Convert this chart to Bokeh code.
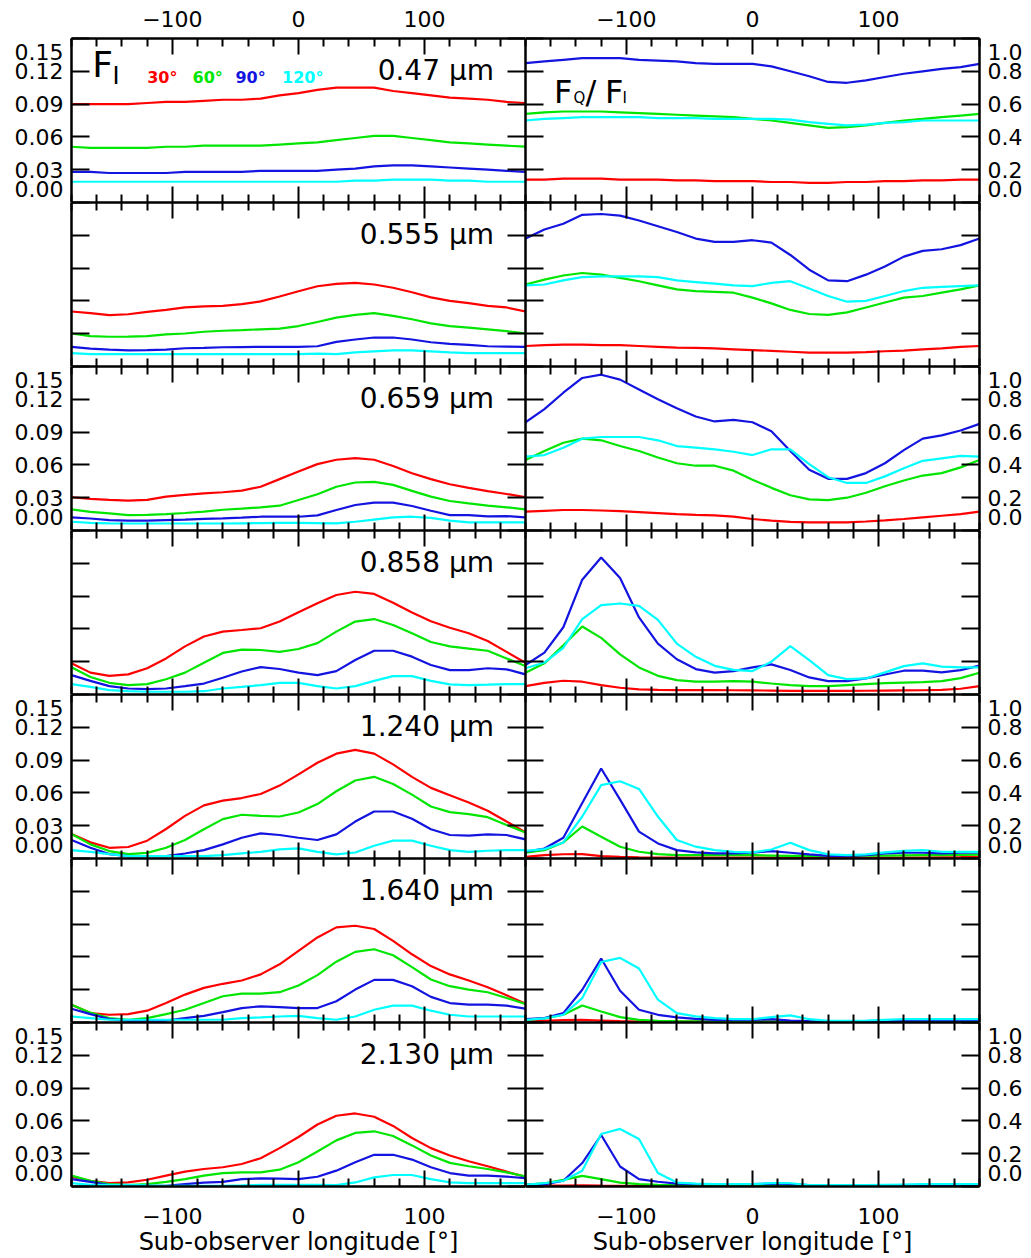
from bokeh.plotting import figure
from bokeh.layouts import gridplot
from bokeh.models import Range1d, LinearAxis, FixedTicker, CustomJSTickFormatter, Label
from bokeh.embed import file_html
from bokeh.resources import INLINE

# ---------------- data ----------------
LON = [-180, -165, -150, -135, -120, -105, -90, -75, -60, -45, -30, -15, 0,
       15, 30, 45, 60, 75, 90, 105, 120, 135, 150, 165, 180]

ANGLES = [30, 60, 90, 120]
WAVELENGTHS = ["0.47", "0.555", "0.659", "0.858", "1.240", "1.640", "2.130"]

# F_I, 0.47 um
FI_0470_30 = [0.090, 0.090, 0.090, 0.090, 0.091, 0.092, 0.092, 0.093, 0.094, 0.094, 0.095, 0.098, 0.100, 0.103, 0.105, 0.105, 0.105, 0.102, 0.100, 0.098, 0.096, 0.095, 0.094, 0.092, 0.091]
FI_0470_60 = [0.051, 0.050, 0.050, 0.050, 0.050, 0.051, 0.051, 0.052, 0.052, 0.052, 0.052, 0.053, 0.054, 0.055, 0.057, 0.059, 0.061, 0.061, 0.059, 0.057, 0.055, 0.054, 0.053, 0.052, 0.051]
FI_0470_90 = [0.028, 0.028, 0.027, 0.027, 0.027, 0.027, 0.028, 0.028, 0.028, 0.028, 0.029, 0.029, 0.029, 0.029, 0.030, 0.031, 0.033, 0.034, 0.034, 0.033, 0.032, 0.031, 0.030, 0.029, 0.028]
FI_0470_120 = [0.019, 0.019, 0.019, 0.019, 0.019, 0.019, 0.019, 0.019, 0.019, 0.019, 0.019, 0.019, 0.019, 0.019, 0.019, 0.020, 0.020, 0.021, 0.021, 0.021, 0.020, 0.020, 0.019, 0.019, 0.019]
# F_Q/F_I, 0.47 um
FQ_0470_30 = [0.140, 0.140, 0.145, 0.145, 0.145, 0.140, 0.140, 0.140, 0.135, 0.135, 0.130, 0.130, 0.130, 0.125, 0.125, 0.120, 0.120, 0.125, 0.125, 0.130, 0.130, 0.135, 0.135, 0.140, 0.140]
FQ_0470_60 = [0.540, 0.550, 0.555, 0.555, 0.555, 0.550, 0.545, 0.540, 0.535, 0.530, 0.525, 0.520, 0.510, 0.500, 0.485, 0.470, 0.455, 0.460, 0.470, 0.485, 0.500, 0.510, 0.520, 0.530, 0.540]
FQ_0470_90 = [0.850, 0.860, 0.870, 0.880, 0.880, 0.880, 0.870, 0.865, 0.860, 0.850, 0.845, 0.845, 0.845, 0.830, 0.800, 0.770, 0.735, 0.730, 0.745, 0.765, 0.785, 0.800, 0.815, 0.825, 0.845]
FQ_0470_120 = [0.500, 0.510, 0.515, 0.520, 0.520, 0.520, 0.520, 0.515, 0.515, 0.515, 0.510, 0.510, 0.510, 0.510, 0.505, 0.490, 0.480, 0.470, 0.475, 0.485, 0.490, 0.500, 0.500, 0.500, 0.500]

# 0.555 um
FI_0555_30 = [0.0503, 0.0488, 0.0470, 0.0478, 0.0500, 0.0518, 0.0540, 0.0550, 0.0555, 0.0570, 0.0596, 0.0640, 0.0688, 0.0734, 0.0756, 0.0765, 0.0750, 0.0720, 0.0679, 0.0632, 0.0600, 0.0580, 0.0555, 0.0540, 0.0503]
FI_0555_60 = [0.0302, 0.0278, 0.0272, 0.0273, 0.0278, 0.0293, 0.0302, 0.0318, 0.0327, 0.0333, 0.0340, 0.0346, 0.0370, 0.0407, 0.0447, 0.0472, 0.0488, 0.0463, 0.0432, 0.0395, 0.0370, 0.0355, 0.0340, 0.0324, 0.0302]
FI_0555_90 = [0.0179, 0.0164, 0.0155, 0.0148, 0.0150, 0.0155, 0.0167, 0.0170, 0.0176, 0.0178, 0.0179, 0.0179, 0.0179, 0.0185, 0.0225, 0.0247, 0.0265, 0.0265, 0.0247, 0.0222, 0.0207, 0.0198, 0.0185, 0.0182, 0.0179]
FI_0555_120 = [0.0123, 0.0114, 0.0114, 0.0114, 0.0114, 0.0114, 0.0114, 0.0114, 0.0114, 0.0114, 0.0114, 0.0114, 0.0114, 0.0117, 0.0114, 0.0130, 0.0139, 0.0148, 0.0148, 0.0139, 0.0130, 0.0123, 0.0123, 0.0123, 0.0123]
FQ_0555_30 = [0.125, 0.130, 0.133, 0.133, 0.130, 0.130, 0.125, 0.120, 0.115, 0.113, 0.110, 0.105, 0.100, 0.095, 0.090, 0.085, 0.085, 0.085, 0.088, 0.093, 0.097, 0.105, 0.110, 0.120, 0.125]
FQ_0555_60 = [0.500, 0.530, 0.555, 0.570, 0.560, 0.540, 0.520, 0.495, 0.470, 0.460, 0.455, 0.450, 0.420, 0.385, 0.345, 0.320, 0.315, 0.330, 0.360, 0.390, 0.420, 0.430, 0.450, 0.470, 0.495]
FQ_0555_90 = [0.780, 0.835, 0.870, 0.925, 0.930, 0.920, 0.890, 0.855, 0.820, 0.780, 0.760, 0.760, 0.770, 0.755, 0.680, 0.590, 0.525, 0.520, 0.560, 0.610, 0.670, 0.705, 0.715, 0.740, 0.780]
FQ_0555_120 = [0.495, 0.500, 0.525, 0.545, 0.550, 0.550, 0.550, 0.545, 0.525, 0.515, 0.505, 0.495, 0.490, 0.510, 0.520, 0.475, 0.430, 0.395, 0.400, 0.430, 0.460, 0.480, 0.485, 0.490, 0.495]

# 0.659 um
FI_0659_30 = [0.0304, 0.0290, 0.0280, 0.0273, 0.0280, 0.0310, 0.0325, 0.0340, 0.0350, 0.0365, 0.0400, 0.0470, 0.0540, 0.0607, 0.0647, 0.0662, 0.0647, 0.0590, 0.0524, 0.0470, 0.0423, 0.0390, 0.0360, 0.0334, 0.0304]
FI_0659_60 = [0.0193, 0.0170, 0.0156, 0.0141, 0.0143, 0.0150, 0.0160, 0.0172, 0.0190, 0.0200, 0.0212, 0.0227, 0.0279, 0.0331, 0.0400, 0.0439, 0.0445, 0.0417, 0.0362, 0.0310, 0.0270, 0.0248, 0.0227, 0.0212, 0.0193]
FI_0659_90 = [0.0120, 0.0110, 0.0095, 0.0090, 0.0090, 0.0095, 0.0100, 0.0107, 0.0110, 0.0117, 0.0126, 0.0126, 0.0126, 0.0138, 0.0187, 0.0233, 0.0255, 0.0255, 0.0224, 0.0181, 0.0141, 0.0141, 0.0130, 0.0132, 0.0120]
FI_0659_120 = [0.0080, 0.0070, 0.0065, 0.0064, 0.0064, 0.0064, 0.0064, 0.0064, 0.0064, 0.0066, 0.0068, 0.0070, 0.0070, 0.0068, 0.0066, 0.0080, 0.0100, 0.0120, 0.0126, 0.0115, 0.0090, 0.0075, 0.0075, 0.0075, 0.0075]
FQ_0659_30 = [0.115, 0.120, 0.125, 0.125, 0.122, 0.118, 0.112, 0.106, 0.100, 0.095, 0.092, 0.085, 0.070, 0.060, 0.053, 0.050, 0.049, 0.050, 0.055, 0.062, 0.070, 0.080, 0.090, 0.100, 0.115]
FQ_0659_60 = [0.430, 0.485, 0.535, 0.560, 0.550, 0.515, 0.485, 0.445, 0.410, 0.395, 0.395, 0.365, 0.310, 0.260, 0.215, 0.190, 0.185, 0.200, 0.230, 0.270, 0.305, 0.335, 0.350, 0.385, 0.430]
FQ_0659_90 = [0.660, 0.740, 0.840, 0.930, 0.950, 0.920, 0.860, 0.800, 0.745, 0.695, 0.665, 0.675, 0.660, 0.605, 0.485, 0.370, 0.315, 0.315, 0.350, 0.410, 0.490, 0.560, 0.580, 0.610, 0.650]
FQ_0659_120 = [0.450, 0.460, 0.505, 0.560, 0.570, 0.570, 0.570, 0.550, 0.515, 0.505, 0.495, 0.480, 0.460, 0.495, 0.495, 0.405, 0.325, 0.290, 0.290, 0.330, 0.380, 0.425, 0.440, 0.455, 0.450]

# 0.858 um
FI_0858_30 = [0.0285, 0.0200, 0.0170, 0.0184, 0.0240, 0.0330, 0.0440, 0.0530, 0.0575, 0.0590, 0.0606, 0.0667, 0.0753, 0.0835, 0.0910, 0.0940, 0.0920, 0.0840, 0.0750, 0.0670, 0.0610, 0.0560, 0.0490, 0.0390, 0.0290]
FI_0858_60 = [0.0250, 0.0160, 0.0107, 0.0086, 0.0095, 0.0140, 0.0200, 0.0290, 0.0380, 0.0410, 0.0407, 0.0390, 0.0416, 0.0470, 0.0575, 0.0667, 0.0690, 0.0636, 0.0560, 0.0480, 0.0440, 0.0420, 0.0400, 0.0330, 0.0260]
FI_0858_90 = [0.0177, 0.0125, 0.0077, 0.0055, 0.0050, 0.0055, 0.0077, 0.0100, 0.0153, 0.0210, 0.0250, 0.0233, 0.0200, 0.0177, 0.0214, 0.0315, 0.0400, 0.0400, 0.0346, 0.0270, 0.0223, 0.0223, 0.0240, 0.0230, 0.0184]
FI_0858_120 = [0.0095, 0.0070, 0.0040, 0.0030, 0.0025, 0.0025, 0.0025, 0.0030, 0.0055, 0.0070, 0.0086, 0.0107, 0.0107, 0.0077, 0.0055, 0.0077, 0.0125, 0.0168, 0.0168, 0.0125, 0.0092, 0.0086, 0.0090, 0.0095, 0.0095]
FQ_0858_30 = [0.051, 0.071, 0.084, 0.078, 0.057, 0.041, 0.031, 0.028, 0.027, 0.027, 0.027, 0.026, 0.025, 0.024, 0.022, 0.022, 0.022, 0.022, 0.023, 0.024, 0.025, 0.026, 0.028, 0.035, 0.051]
FQ_0858_60 = [0.133, 0.190, 0.300, 0.415, 0.345, 0.245, 0.165, 0.114, 0.088, 0.078, 0.078, 0.082, 0.078, 0.067, 0.057, 0.051, 0.051, 0.057, 0.063, 0.069, 0.073, 0.076, 0.082, 0.100, 0.133]
FQ_0858_90 = [0.180, 0.255, 0.410, 0.700, 0.835, 0.710, 0.470, 0.310, 0.215, 0.155, 0.133, 0.143, 0.165, 0.184, 0.149, 0.104, 0.082, 0.082, 0.098, 0.122, 0.145, 0.145, 0.135, 0.149, 0.176]
FQ_0858_120 = [0.160, 0.195, 0.285, 0.460, 0.545, 0.555, 0.540, 0.455, 0.310, 0.230, 0.175, 0.150, 0.143, 0.200, 0.295, 0.210, 0.118, 0.094, 0.098, 0.135, 0.173, 0.190, 0.170, 0.165, 0.165]

# 1.240 um
FI_1240_30 = [0.0224, 0.0148, 0.0098, 0.0105, 0.0163, 0.0270, 0.0390, 0.0486, 0.0529, 0.0553, 0.0590, 0.0667, 0.0769, 0.0876, 0.0959, 0.0993, 0.0959, 0.0861, 0.0747, 0.0646, 0.0578, 0.0513, 0.0437, 0.0338, 0.0240]
FI_1240_60 = [0.0224, 0.0129, 0.0068, 0.0040, 0.0052, 0.0098, 0.0169, 0.0267, 0.0360, 0.0400, 0.0390, 0.0384, 0.0421, 0.0498, 0.0615, 0.0713, 0.0747, 0.0682, 0.0584, 0.0476, 0.0424, 0.0406, 0.0378, 0.0307, 0.0237]
FI_1240_90 = [0.0169, 0.0098, 0.0040, 0.0022, 0.0022, 0.0022, 0.0046, 0.0077, 0.0129, 0.0190, 0.0230, 0.0215, 0.0190, 0.0169, 0.0221, 0.0338, 0.0430, 0.0430, 0.0363, 0.0267, 0.0215, 0.0209, 0.0221, 0.0215, 0.0175]
FI_1240_120 = [0.0077, 0.0061, 0.0040, 0.0022, 0.0022, 0.0022, 0.0022, 0.0022, 0.0031, 0.0046, 0.0061, 0.0083, 0.0092, 0.0061, 0.0037, 0.0055, 0.0117, 0.0163, 0.0163, 0.0117, 0.0077, 0.0061, 0.0071, 0.0077, 0.0077]
FQ_1240_30 = [0.010, 0.020, 0.026, 0.027, 0.014, 0.010, 0.007, 0.006, 0.005, 0.005, 0.005, 0.005, 0.005, 0.005, 0.005, 0.005, 0.005, 0.005, 0.005, 0.005, 0.005, 0.006, 0.007, 0.008, 0.010]
FQ_1240_60 = [0.035, 0.051, 0.098, 0.195, 0.133, 0.072, 0.041, 0.027, 0.021, 0.020, 0.020, 0.020, 0.020, 0.018, 0.016, 0.016, 0.016, 0.016, 0.017, 0.018, 0.019, 0.020, 0.021, 0.022, 0.024]
FQ_1240_90 = [0.041, 0.061, 0.127, 0.338, 0.549, 0.359, 0.164, 0.092, 0.051, 0.037, 0.031, 0.031, 0.035, 0.045, 0.035, 0.025, 0.016, 0.016, 0.020, 0.031, 0.035, 0.035, 0.031, 0.035, 0.037]
FQ_1240_120 = [0.047, 0.057, 0.098, 0.256, 0.447, 0.471, 0.424, 0.256, 0.113, 0.072, 0.051, 0.041, 0.037, 0.055, 0.096, 0.051, 0.025, 0.020, 0.025, 0.037, 0.047, 0.051, 0.041, 0.041, 0.041]

# 1.640 um
FI_1640_30 = [0.0163, 0.0086, 0.0071, 0.0077, 0.0108, 0.0178, 0.0255, 0.0317, 0.0354, 0.0384, 0.0440, 0.0532, 0.0655, 0.0778, 0.0870, 0.0885, 0.0855, 0.0747, 0.0624, 0.0516, 0.0440, 0.0384, 0.0323, 0.0249, 0.0172]
FI_1640_60 = [0.0163, 0.0090, 0.0040, 0.0025, 0.0040, 0.0077, 0.0117, 0.0178, 0.0240, 0.0264, 0.0264, 0.0277, 0.0338, 0.0433, 0.0556, 0.0646, 0.0670, 0.0615, 0.0507, 0.0393, 0.0332, 0.0301, 0.0277, 0.0224, 0.0169]
FI_1640_90 = [0.0126, 0.0077, 0.0031, 0.0018, 0.0018, 0.0018, 0.0040, 0.0061, 0.0095, 0.0132, 0.0148, 0.0141, 0.0132, 0.0132, 0.0194, 0.0301, 0.0390, 0.0390, 0.0332, 0.0234, 0.0178, 0.0163, 0.0163, 0.0154, 0.0126]
FI_1640_120 = [0.0055, 0.0040, 0.0025, 0.0025, 0.0025, 0.0025, 0.0025, 0.0025, 0.0025, 0.0040, 0.0046, 0.0055, 0.0061, 0.0040, 0.0025, 0.0055, 0.0117, 0.0154, 0.0154, 0.0108, 0.0071, 0.0055, 0.0055, 0.0055, 0.0055]
FQ_1640_30 = [0.008, 0.010, 0.014, 0.016, 0.012, 0.008, 0.006, 0.005, 0.005, 0.005, 0.005, 0.005, 0.005, 0.005, 0.005, 0.005, 0.005, 0.005, 0.005, 0.005, 0.005, 0.005, 0.005, 0.005, 0.006]
FQ_1640_60 = [0.016, 0.025, 0.047, 0.104, 0.067, 0.033, 0.016, 0.010, 0.008, 0.007, 0.006, 0.006, 0.006, 0.006, 0.006, 0.006, 0.006, 0.006, 0.006, 0.006, 0.006, 0.006, 0.006, 0.007, 0.008]
FQ_1640_90 = [0.020, 0.027, 0.057, 0.200, 0.390, 0.194, 0.078, 0.047, 0.031, 0.022, 0.016, 0.016, 0.016, 0.020, 0.012, 0.008, 0.006, 0.006, 0.006, 0.008, 0.010, 0.012, 0.012, 0.012, 0.014]
FQ_1640_120 = [0.016, 0.025, 0.047, 0.149, 0.369, 0.394, 0.329, 0.139, 0.057, 0.037, 0.027, 0.020, 0.020, 0.033, 0.043, 0.020, 0.010, 0.010, 0.012, 0.016, 0.020, 0.020, 0.020, 0.020, 0.020]

# 2.130 um
FI_2130_30 = [0.0089, 0.0052, 0.0031, 0.0037, 0.0062, 0.0099, 0.0136, 0.0160, 0.0176, 0.0206, 0.0259, 0.0351, 0.0453, 0.0567, 0.0647, 0.0668, 0.0638, 0.0554, 0.0444, 0.0351, 0.0283, 0.0231, 0.0185, 0.0136, 0.0089]
FI_2130_60 = [0.0099, 0.0052, 0.0022, 0.0012, 0.0022, 0.0043, 0.0068, 0.0099, 0.0123, 0.0129, 0.0129, 0.0154, 0.0222, 0.0320, 0.0422, 0.0490, 0.0505, 0.0462, 0.0376, 0.0283, 0.0216, 0.0185, 0.0160, 0.0129, 0.0092]
FI_2130_90 = [0.0068, 0.0043, 0.0012, 0.0006, 0.0006, 0.0006, 0.0022, 0.0035, 0.0043, 0.0068, 0.0074, 0.0072, 0.0068, 0.0089, 0.0145, 0.0222, 0.0290, 0.0290, 0.0246, 0.0176, 0.0123, 0.0099, 0.0099, 0.0090, 0.0077]
FI_2130_120 = [0.0031, 0.0015, 0.0015, 0.0015, 0.0010, 0.0006, 0.0006, 0.0006, 0.0006, 0.0010, 0.0015, 0.0015, 0.0015, 0.0015, 0.0012, 0.0037, 0.0083, 0.0105, 0.0105, 0.0068, 0.0037, 0.0031, 0.0031, 0.0031, 0.0031]
FQ_2130_30 = [0.004, 0.005, 0.006, 0.007, 0.005, 0.004, 0.003, 0.003, 0.003, 0.003, 0.003, 0.003, 0.003, 0.003, 0.003, 0.003, 0.003, 0.003, 0.003, 0.003, 0.003, 0.003, 0.003, 0.003, 0.004]
FQ_2130_60 = [0.010, 0.020, 0.040, 0.065, 0.045, 0.024, 0.014, 0.010, 0.008, 0.008, 0.008, 0.008, 0.008, 0.008, 0.008, 0.008, 0.008, 0.008, 0.008, 0.008, 0.008, 0.008, 0.008, 0.008, 0.008]
FQ_2130_90 = [0.010, 0.012, 0.035, 0.143, 0.314, 0.122, 0.045, 0.029, 0.018, 0.014, 0.014, 0.014, 0.014, 0.018, 0.014, 0.008, 0.008, 0.008, 0.008, 0.008, 0.009, 0.010, 0.010, 0.010, 0.010]
FQ_2130_120 = [0.010, 0.020, 0.035, 0.096, 0.320, 0.351, 0.290, 0.082, 0.024, 0.018, 0.014, 0.014, 0.014, 0.020, 0.020, 0.008, 0.008, 0.008, 0.008, 0.010, 0.012, 0.014, 0.014, 0.014, 0.014]

FI_ROWS = [
    [FI_0470_30, FI_0470_60, FI_0470_90, FI_0470_120],
    [FI_0555_30, FI_0555_60, FI_0555_90, FI_0555_120],
    [FI_0659_30, FI_0659_60, FI_0659_90, FI_0659_120],
    [FI_0858_30, FI_0858_60, FI_0858_90, FI_0858_120],
    [FI_1240_30, FI_1240_60, FI_1240_90, FI_1240_120],
    [FI_1640_30, FI_1640_60, FI_1640_90, FI_1640_120],
    [FI_2130_30, FI_2130_60, FI_2130_90, FI_2130_120],
]
FQ_ROWS = [
    [FQ_0470_30, FQ_0470_60, FQ_0470_90, FQ_0470_120],
    [FQ_0555_30, FQ_0555_60, FQ_0555_90, FQ_0555_120],
    [FQ_0659_30, FQ_0659_60, FQ_0659_90, FQ_0659_120],
    [FQ_0858_30, FQ_0858_60, FQ_0858_90, FQ_0858_120],
    [FQ_1240_30, FQ_1240_60, FQ_1240_90, FQ_1240_120],
    [FQ_1640_30, FQ_1640_60, FQ_1640_90, FQ_1640_120],
    [FQ_2130_30, FQ_2130_60, FQ_2130_90, FQ_2130_120],
]

X_MAJOR = [-100, 0, 100]
X_MINOR = [-180, -160, -140, -120, -80, -60, -40, -20, 20, 40, 60, 80, 120, 140, 160, 180]
FI_TICKS = [0.0, 0.03, 0.06, 0.09, 0.12, 0.15]
FQ_TICKS = [0.0, 0.2, 0.4, 0.6, 0.8, 1.0]

# ---------------- style ----------------
FONT = "DejaVu Sans"
COLORS = ["#ff0000", "#00e600", "#1414e0", "#00ffff"]
TICK_FS = "22px"
LEFT_B, RIGHT_B, TOP_B, BOT_B = 71, 48, 38, 72
FRAME_W, FRAME_H = 454, 164
NROWS = 7
EDGE_SHIFT = 0.08  # fraction of the span by which the end labels sit inside the panel

MINUS_FMT = "return (tick < 0 ? '\\u2212' : '') + Math.abs(tick).toFixed(0)"


def tick_axis(ticks, minor, tlen, mlen, fmt=None, fs="0px", standoff=0):
    ax = LinearAxis(
        ticker=FixedTicker(ticks=ticks, minor_ticks=minor),
        formatter=CustomJSTickFormatter(code=fmt if fmt else "return ''"),
        major_tick_in=tlen, major_tick_out=0,
        minor_tick_in=mlen, minor_tick_out=0,
        major_label_standoff=standoff,
        axis_line_width=2.5, axis_line_color="black",
        major_tick_line_width=2, major_tick_line_color="black",
        minor_tick_line_width=2,
        minor_tick_line_color="black" if minor else None,
        major_label_text_font=FONT, major_label_text_font_size=fs,
        major_label_text_color="black",
    )
    return ax


def label_axis(ticks, code):
    return LinearAxis(
        ticker=FixedTicker(ticks=ticks),
        formatter=CustomJSTickFormatter(code=code),
        major_tick_in=0, major_tick_out=0,
        major_tick_line_color=None, minor_tick_line_color=None,
        axis_line_color=None, major_label_standoff=8,
        major_label_text_font=FONT, major_label_text_font_size=TICK_FS,
        major_label_text_color="black",
    )


def txt(x, y, text, size, color="black", align="left", style="normal"):
    return Label(x=x, y=y, text=text, text_font=FONT, text_font_size=size,
                 text_color=color, text_align=align, text_baseline="middle",
                 text_font_style=style)


def ypos(ymax, px_below_top):
    return ymax * (1 - px_below_top / FRAME_H)


def make_panel(row, col):
    left = col == 0
    ymax = 0.15 if left else 1.0
    top_b = TOP_B if row == 0 else 0
    bot_b = BOT_B if row == NROWS - 1 else 0
    lb = LEFT_B if left else 0
    rb = 0 if left else RIGHT_B
    p = figure(width=FRAME_W + lb + rb, height=FRAME_H + top_b + bot_b,
               x_range=Range1d(-180, 180), y_range=Range1d(0, ymax),
               x_axis_type=None, y_axis_type=None,
               toolbar_location=None, output_backend="svg",
               min_border_left=lb, min_border_right=rb,
               min_border_top=top_b, min_border_bottom=bot_b,
               outline_line_color=None, background_fill_color="white",
               border_fill_color="white")

    # x axes (top & bottom, inward ticks)
    if row == 0:
        p.add_layout(tick_axis(X_MAJOR, X_MINOR, 16, 8, MINUS_FMT, TICK_FS, 12), "above")
    else:
        p.add_layout(tick_axis(X_MAJOR, X_MINOR, 16, 8), "above")
    if row == NROWS - 1:
        bx = tick_axis(X_MAJOR, X_MINOR, 16, 8, MINUS_FMT, TICK_FS, 21)
        bx.axis_label = "Sub-observer longitude [°]"
        bx.axis_label_text_font = FONT
        bx.axis_label_text_font_size = "24px"
        bx.axis_label_text_font_style = "normal"
        bx.axis_label_text_color = "black"
        bx.axis_label_standoff = 1
        p.add_layout(bx, "below")
    else:
        p.add_layout(tick_axis(X_MAJOR, X_MINOR, 16, 8), "below")

    # y axes (both sides, inward ticks)
    yt = FI_TICKS if left else FQ_TICKS
    p.add_layout(tick_axis(yt, [], 18, 0), "left")
    p.add_layout(tick_axis(yt, [], 18, 0), "right")
    if row % 2 == 0:
        shifted = [yt[0] + EDGE_SHIFT * ymax] + yt[1:-1] + [yt[-1] - EDGE_SHIFT * ymax]
        if left:
            code = "return (Math.round(tick/0.03)*0.03).toFixed(2)"
            p.add_layout(label_axis(shifted, code), "left")
        else:
            code = "return (Math.round(tick/0.2)*0.2).toFixed(1)"
            p.add_layout(label_axis(shifted, code), "right")

    series = FI_ROWS[row] if left else FQ_ROWS[row]
    for s, c in zip(series, COLORS):
        p.line(LON, s, line_color=c, line_width=2.2)

    if left:
        p.add_layout(txt(155, ypos(ymax, 31.5), WAVELENGTHS[row] + " μm", "28px", align="right"))
    if row == 0 and left:
        p.add_layout(txt(-163.5, ypos(0.15, 26), "F", "36px"))
        p.add_layout(txt(-147.5, ypos(0.15, 37), "I", "24px"))
        for xx, a, c in zip([-120, -84, -50, -13], ANGLES, COLORS):
            p.add_layout(txt(xx, ypos(0.15, 39), f"{a}°", "16px", color=c, style="bold"))
    if row == 0 and not left:
        p.add_layout(txt(-157.5, ypos(1.0, 53.5), "F", "32px"))
        p.add_layout(txt(-142, ypos(1.0, 59.5), "Q", "15px"))
        p.add_layout(txt(-132.5, ypos(1.0, 53.5), "/", "32px"))
        p.add_layout(txt(-117, ypos(1.0, 53.5), "F", "32px"))
        p.add_layout(txt(-103, ypos(1.0, 59.5), "I", "15px"))
    return p


rows = [[make_panel(r, 0), make_panel(r, 1)] for r in range(NROWS)]
grid = gridplot(rows, toolbar_location=None)

open("out.html", "w").write(file_html(grid, INLINE))
